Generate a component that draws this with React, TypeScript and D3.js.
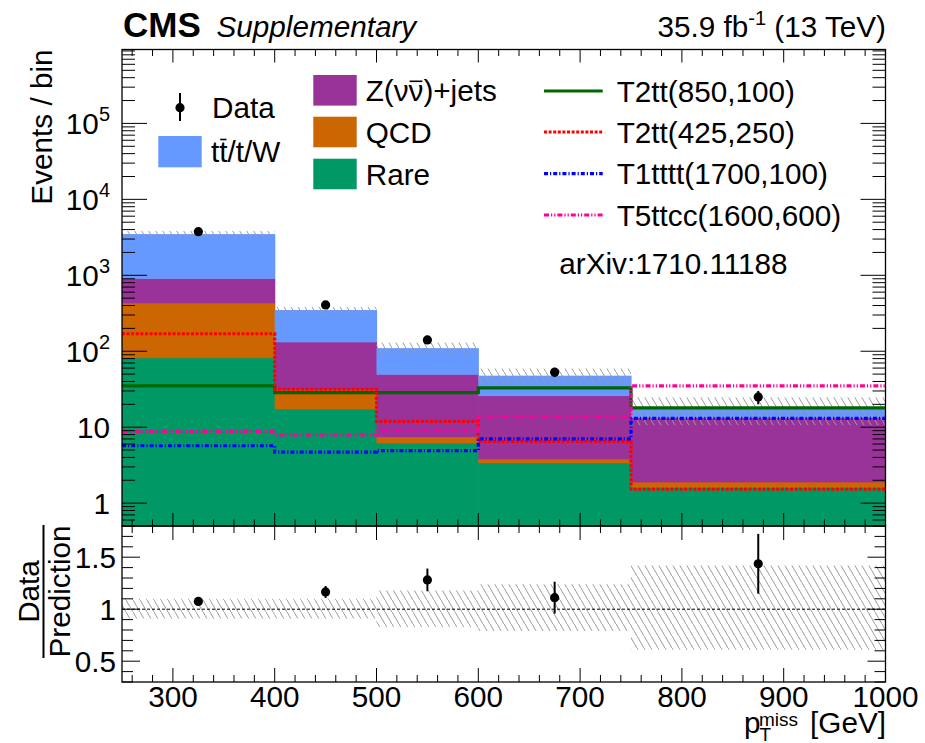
import React, { useEffect, useRef } from "react";
import * as d3 from "d3";

// Binning in missing transverse momentum [GeV]
const binEdges = [250, 400, 500, 600, 750, 1000];

// Background yields per bin (stacked bottom to top)
const rareYield = [82, 17.4, 6.2, 3.4, 1.6];
const qcdYield = [346, 13.6, 1.3, 0.4, 0.3];
const znnYield = [484, 101.5, 42.3, 22.2, 11.6];
const ttwYield = [2578, 216.5, 60.2, 21.7, 3.9];

// Observed data and statistical uncertainty
const dataCounts = [3750, 407, 141, 53, 25];
const dataErrors = [61, 20, 12, 7.3, 5];

// Relative uncertainty of the total prediction
const predUncUp = [0.1, 0.1, 0.18, 0.24, 0.42];
const predUncDown = [0.09, 0.09, 0.17, 0.21, 0.39];

// Signal benchmark yields
const t2tt850 = [35, 28.5, 28.5, 33, 18];
const t2tt425 = [170, 31.6, 11.9, 6.5, 1.53];
const t1tttt = [5.7, 4.7, 4.9, 7.0, 13.1];
const t5ttcc = [8.8, 7.9, 9.0, 13.8, 35];

// Axis tick labels
const xTickValues = [300, 400, 500, 600, 700, 800, 900, 1000];
const yTickExponents = [0, 1, 2, 3, 4, 5];
const ratioTickValues = [0.5, 1, 1.5];

const FONT = "'Liberation Sans', Arial, Helvetica, sans-serif";
const FS = 29.7;

const COLORS = {
  ttw: "#6699ff",
  znn: "#993399",
  qcd: "#cc6600",
  rare: "#009966",
};

export default function App() {
  const ref = useRef<SVGSVGElement>(null);

  useEffect(() => {
    const svg = d3.select(ref.current);
    svg.selectAll("*").remove();

    const L = 122, R = 885.5, T = 49.5, B = 526, RB = 682;

    const x = d3.scaleLinear().domain([250, 1000]).range([L, R]);
    const y = d3.scaleLog().domain([0.5, 9.4e5]).range([B, T]);
    const yr = d3.scaleLinear().domain([0.3, 1.8]).range([RB, B]);

    const nb = dataCounts.length;
    const totals = d3.range(nb).map(
      (i) => rareYield[i] + qcdYield[i] + znnYield[i] + ttwYield[i]
    );

    const defs = svg.append("defs");
    const pat = defs
      .append("pattern")
      .attr("id", "hatch")
      .attr("patternUnits", "userSpaceOnUse")
      .attr("width", 7)
      .attr("height", 12);
    pat
      .append("path")
      .attr("d", "M-1,-1.714L8,13.714")
      .attr("stroke", "#9a9a9a")
      .attr("stroke-width", 1)
      .attr("fill", "none");

    defs
      .append("clipPath")
      .attr("id", "clipMain")
      .append("rect")
      .attr("x", L)
      .attr("y", T)
      .attr("width", R - L)
      .attr("height", B - T);

    // ---------- main panel ----------
    const main = svg.append("g").attr("clip-path", "url(#clipMain)");

    const comps = [
      { vals: rareYield, color: COLORS.rare },
      { vals: qcdYield, color: COLORS.qcd },
      { vals: znnYield, color: COLORS.znn },
      { vals: ttwYield, color: COLORS.ttw },
    ];
    for (let i = 0; i < nb; i++) {
      let lo = 0.5;
      let cum = 0;
      const overlap = i < nb - 1 ? 0.6 : 0;
      comps.forEach((c) => {
        cum += c.vals[i];
        main
          .append("rect")
          .attr("x", x(binEdges[i]))
          .attr("width", x(binEdges[i + 1]) - x(binEdges[i]) + overlap)
          .attr("y", y(cum))
          .attr("height", y(lo) - y(cum) + 0.4)
          .attr("fill", c.color);
        lo = cum;
      });
    }

    // prediction uncertainty band
    for (let i = 0; i < nb; i++) {
      const hi = totals[i] * (1 + predUncUp[i]);
      const lo = totals[i] * (1 - predUncDown[i]);
      main
        .append("rect")
        .attr("x", x(binEdges[i]))
        .attr("width", x(binEdges[i + 1]) - x(binEdges[i]))
        .attr("y", y(hi))
        .attr("height", y(lo) - y(hi))
        .attr("fill", "url(#hatch)");
    }

    // signal step histograms
    const signals = [
      { vals: t2tt850, color: "#006600", dash: null },
      { vals: t2tt425, color: "#ff0000", dash: "3,1.6" },
      { vals: t1tttt, color: "#0000ff", dash: "4,2,1.2,2" },
      { vals: t5ttcc, color: "#ff0099", dash: "5,2,1.2,2,1.2,2" },
    ];
    const stepLine = d3
      .line<[number, number]>()
      .x((d) => x(d[0]))
      .y((d) => y(d[1]))
      .curve(d3.curveStepAfter);
    signals.forEach((s) => {
      const pts: [number, number][] = s.vals.map((v, i) => [binEdges[i], v]);
      pts.push([binEdges[nb], s.vals[nb - 1]]);
      const p = main
        .append("path")
        .attr("d", stepLine(pts))
        .attr("fill", "none")
        .attr("stroke", s.color)
        .attr("stroke-width", 3.2);
      if (s.dash) p.attr("stroke-dasharray", s.dash);
    });

    // data points
    const centers = d3.range(nb).map((i) => (binEdges[i] + binEdges[i + 1]) / 2);
    for (let i = 0; i < nb; i++) {
      const cx = x(centers[i]);
      svg
        .append("line")
        .attr("x1", cx)
        .attr("x2", cx)
        .attr("y1", y(dataCounts[i] + dataErrors[i]))
        .attr("y2", y(dataCounts[i] - dataErrors[i]))
        .attr("stroke", "#000")
        .attr("stroke-width", 2);
      svg
        .append("circle")
        .attr("cx", cx)
        .attr("cy", y(dataCounts[i]))
        .attr("r", 4.6)
        .attr("fill", "#000");
    }

    // ---------- ratio panel ----------
    for (let i = 0; i < nb; i++) {
      svg
        .append("rect")
        .attr("x", x(binEdges[i]))
        .attr("width", x(binEdges[i + 1]) - x(binEdges[i]))
        .attr("y", yr(1 + predUncUp[i]))
        .attr("height", yr(1 - predUncDown[i]) - yr(1 + predUncUp[i]))
        .attr("fill", "url(#hatch)");
    }
    svg
      .append("line")
      .attr("x1", L)
      .attr("x2", R)
      .attr("y1", yr(1))
      .attr("y2", yr(1))
      .attr("stroke", "#000")
      .attr("stroke-width", 1)
      .attr("stroke-dasharray", "3,2");
    for (let i = 0; i < nb; i++) {
      const cx = x(centers[i]);
      const r = dataCounts[i] / totals[i];
      const e = dataErrors[i] / totals[i];
      svg
        .append("line")
        .attr("x1", cx)
        .attr("x2", cx)
        .attr("y1", yr(r + e))
        .attr("y2", yr(r - e))
        .attr("stroke", "#000")
        .attr("stroke-width", 2);
      svg
        .append("circle")
        .attr("cx", cx)
        .attr("cy", yr(r))
        .attr("r", 4.6)
        .attr("fill", "#000");
    }

    // ---------- frames and ticks ----------
    const axes = svg.append("g").attr("stroke", "#000").attr("stroke-width", 1);
    const tick = (x1: number, y1: number, x2: number, y2: number) =>
      axes
        .append("line")
        .attr("x1", x1)
        .attr("y1", y1)
        .attr("x2", x2)
        .attr("y2", y2);

    // x ticks (both panels, top and bottom edges)
    for (let v = 260; v <= 1000; v += 20) {
      const major = v % 100 === 0;
      const px = x(v);
      const lenMain = major ? 13 : 6.5;
      const lenRatio = major ? 14 : 7;
      tick(px, B, px, B - lenMain);
      tick(px, T, px, T + lenMain);
      tick(px, RB, px, RB - lenRatio);
      tick(px, B, px, B + lenRatio);
    }

    // main y ticks (log)
    for (let d = -1; d <= 5; d++) {
      for (let k = 1; k <= 9; k++) {
        const v = k * Math.pow(10, d);
        if (v < 0.5 || v > 9.4e5) continue;
        const py = y(v);
        const len = k === 1 ? 25 : 13;
        tick(L, py, L + len, py);
        tick(R, py, R - len, py);
      }
    }

    // ratio y ticks
    for (let j = 3; j <= 18; j++) {
      const v = j / 10;
      const major = j % 5 === 0;
      const py = yr(v);
      const len = major ? 18 : 11;
      tick(L, py, L + len, py);
      tick(R, py, R - len, py);
    }

    const frames = svg
      .append("g")
      .attr("fill", "none")
      .attr("stroke", "#000")
      .attr("stroke-width", 1.3);
    frames.append("rect").attr("x", L).attr("y", T).attr("width", R - L).attr("height", B - T);
    frames.append("rect").attr("x", L).attr("y", B).attr("width", R - L).attr("height", RB - B);

    // ---------- text ----------
    const txt = svg
      .append("g")
      .attr("font-family", FONT)
      .attr("font-size", FS)
      .attr("fill", "#000");

    // main y labels
    yTickExponents.forEach((ex) => {
      const t = txt
        .append("text")
        .attr("x", 110)
        .attr("y", y(Math.pow(10, ex)) + 11)
        .attr("text-anchor", "end");
      if (ex === 0) t.text("1");
      else if (ex === 1) t.text("10");
      else {
        t.append("tspan").text("10");
        t.append("tspan").attr("dy", -13).attr("font-size", 20).text(String(ex));
      }
    });

    // ratio y labels
    ratioTickValues.forEach((v) => {
      txt
        .append("text")
        .attr("x", 116)
        .attr("y", yr(v) + 11)
        .attr("text-anchor", "end")
        .text(String(v));
    });

    // x labels
    xTickValues.forEach((v) => {
      txt
        .append("text")
        .attr("x", x(v))
        .attr("y", 707)
        .attr("text-anchor", "middle")
        .text(String(v));
    });

    // x title
    txt.append("text").attr("x", 886).attr("y", 733).attr("text-anchor", "end").text("[GeV]");
    txt.append("text").attr("x", 744).attr("y", 733).text("p");
    txt.append("text").attr("x", 759).attr("y", 726).attr("font-size", 19).text("miss");
    txt.append("text").attr("x", 759.5).attr("y", 740.5).attr("font-size", 19).text("T");

    // main y title
    txt
      .append("text")
      .attr("transform", `translate(51.5,${T}) rotate(-90)`)
      .attr("text-anchor", "end")
      .text("Events / bin");

    // ratio y title
    const ry = 591.5;
    txt
      .append("text")
      .attr("transform", `translate(38.5,${ry}) rotate(-90)`)
      .attr("text-anchor", "middle")
      .text("Data");
    txt
      .append("text")
      .attr("transform", `translate(69.5,${ry}) rotate(-90)`)
      .attr("text-anchor", "middle")
      .text("Prediction");
    svg
      .append("line")
      .attr("x1", 43.5)
      .attr("x2", 43.5)
      .attr("y1", 525)
      .attr("y2", 658)
      .attr("stroke", "#000")
      .attr("stroke-width", 2);

    // header
    txt
      .append("text")
      .attr("x", 123)
      .attr("y", 37)
      .attr("font-weight", "bold")
      .attr("font-size", 35)
      .text("CMS");
    txt
      .append("text")
      .attr("x", 216.5)
      .attr("y", 37)
      .attr("font-style", "italic")
      .text("Supplementary");
    const lumi = txt.append("text").attr("x", 886).attr("y", 37).attr("text-anchor", "end");
    lumi.append("tspan").text("35.9 fb");
    lumi.append("tspan").attr("dy", -12).attr("font-size", 20).text("-1");
    lumi.append("tspan").attr("dy", 12).text(" (13 TeV)");

    // ---------- legend ----------
    // overline helper for a single character of a text element
    const overline = (node: SVGTextElement, idx: number, yy: number) => {
      const a = node.getStartPositionOfChar(idx).x;
      const b = node.getEndPositionOfChar(idx).x;
      svg
        .append("line")
        .attr("x1", a + 1)
        .attr("x2", b - 1)
        .attr("y1", yy)
        .attr("y2", yy)
        .attr("stroke", "#000")
        .attr("stroke-width", 1.6);
    };

    // Data
    svg.append("line").attr("x1", 180).attr("x2", 180).attr("y1", 93).attr("y2", 121)
      .attr("stroke", "#000").attr("stroke-width", 2);
    svg.append("circle").attr("cx", 180).attr("cy", 107.7).attr("r", 4.6).attr("fill", "#000");
    txt.append("text").attr("x", 212).attr("y", 118.4).text("Data");

    // tt/t/W
    svg.append("rect").attr("x", 158.3).attr("y", 136).attr("width", 43.4).attr("height", 31.3)
      .attr("fill", COLORS.ttw);
    const ttText = txt.append("text").attr("x", 211).attr("y", 162.4).text("tt/t/W");
    overline(ttText.node() as SVGTextElement, 1, 139.5);

    const leftRows = [
      { label: "Z(νν)+jets", color: COLORS.znn, yc: 90.3, bar: 3 },
      { label: "QCD", color: COLORS.qcd, yc: 132, bar: -1 },
      { label: "Rare", color: COLORS.rare, yc: 174, bar: -1 },
    ];
    leftRows.forEach((r) => {
      svg.append("rect").attr("x", 313.3).attr("y", r.yc - 15.3).attr("width", 43.4)
        .attr("height", 30.6).attr("fill", r.color);
      const t = txt.append("text").attr("x", 365.7).attr("y", r.yc + 10.7).text(r.label);
      if (r.bar >= 0) overline(t.node() as SVGTextElement, r.bar, r.yc - 9);
    });

    const rightRows = [
      { label: "T2tt(850,100)", sig: signals[0], yc: 91 },
      { label: "T2tt(425,250)", sig: signals[1], yc: 132 },
      { label: "T1tttt(1700,100)", sig: signals[2], yc: 173.7 },
      { label: "T5ttcc(1600,600)", sig: signals[3], yc: 215 },
    ];
    rightRows.forEach((r) => {
      const l = svg.append("line").attr("x1", 544).attr("x2", 602.7).attr("y1", r.yc).attr("y2", r.yc)
        .attr("stroke", r.sig.color).attr("stroke-width", 3.2);
      if (r.sig.dash) l.attr("stroke-dasharray", r.sig.dash);
      txt.append("text").attr("x", 616.7).attr("y", r.yc + 10.7).text(r.label);
    });

    txt.append("text").attr("x", 559.3).attr("y", 274).text("arXiv:1710.11188");
  }, []);

  return (
    <svg
      ref={ref}
      width={925}
      height={743}
      style={{ position: "absolute", left: 0, top: 0, background: "#fff" }}
    />
  );
}
